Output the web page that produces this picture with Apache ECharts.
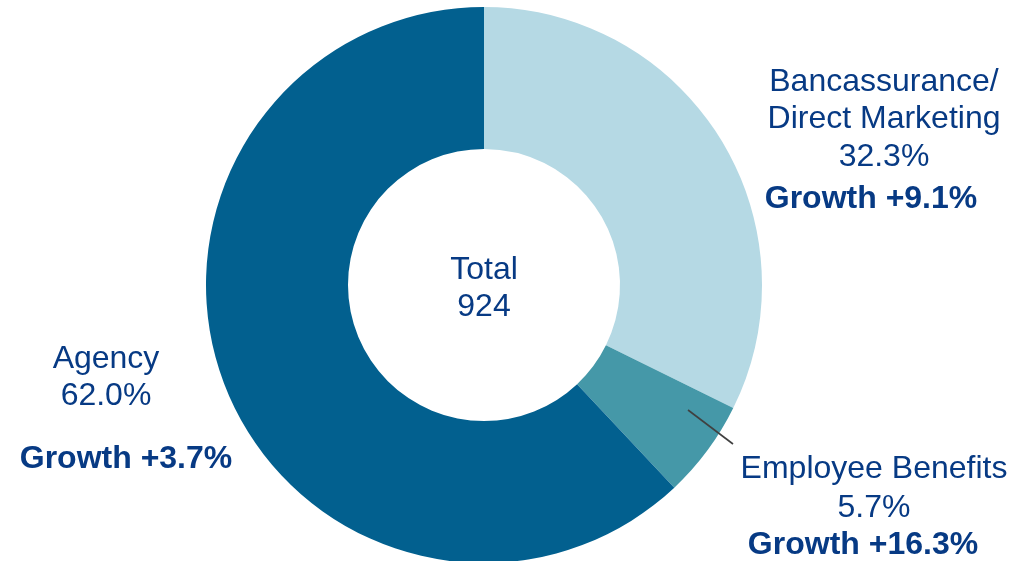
<!DOCTYPE html>
<html>
<head>
<meta charset="utf-8">
<title>Premium mix by channel</title>
<script src="https://cdn.jsdelivr.net/npm/echarts@6/dist/echarts.min.js"></script>
<style>
  html, body { margin: 0; padding: 0; background: #ffffff; }
  #chart { width: 1035px; height: 561px; }
</style>
</head>
<body>
<div id="chart"></div>
<script>
// Channel mix, share of total (%) and year-on-year growth (%)
const channels = ['Bancassurance/\nDirect Marketing', 'Employee Benefits', 'Agency'];
const shares = [32.3, 5.7, 62.0];
const growth = [9.1, 16.3, 3.7];
const total = 924;
const colors = ['#b5d9e4', '#4598a8', '#02608f'];

const textColor = '#073a84';
const fontFamily = '"Liberation Sans", Arial, sans-serif';

// Where each channel's text block sits: centre x, first line y, line step, growth line position
const labelSpots = [
  { x: 884, y: 82, step: 37.5, gy: 199, gx: 871 },
  { x: 874, y: 469, step: 39, gy: 545, gx: 863 },
  { x: 106, y: 359, step: 37, gy: 459, gx: 126 }
];

function textEl(text, x, y, bold) {
  return {
    type: 'text',
    x: x, y: y,
    z: 100,
    silent: true,
    style: {
      text: text,
      align: 'center',
      verticalAlign: 'middle',
      fill: textColor,
      font: (bold ? 'bold ' : '') + '32px ' + fontFamily
    }
  };
}

const graphics = [];
channels.forEach(function (name, i) {
  const s = labelSpots[i];
  const lines = name.split('\n');
  lines.forEach(function (ln, k) {
    graphics.push(textEl(ln, s.x, s.y + k * s.step, false));
  });
  graphics.push(textEl(shares[i].toFixed(1) + '%', s.x, s.y + lines.length * s.step, false));
  graphics.push(textEl('Growth +' + growth[i].toFixed(1) + '%', s.gx, s.gy, true));
});
graphics.push(textEl('Total', 484, 270, false));
graphics.push(textEl(String(total), 484, 307, false));
// leader from the Employee Benefits slice to its label
graphics.push({
  type: 'line',
  z: 100,
  silent: true,
  shape: { x1: 688, y1: 410, x2: 733, y2: 444 },
  style: { stroke: '#404040', lineWidth: 1.6 }
});

const chart = echarts.init(document.getElementById('chart'), null, { renderer: 'canvas' });
chart.setOption({
  animation: false,
  backgroundColor: '#ffffff',
  series: [{
    type: 'pie',
    center: [484, 285],
    radius: [136, 278],
    startAngle: 90,
    clockwise: true,
    avoidLabelOverlap: false,
    label: { show: false },
    labelLine: { show: false },
    itemStyle: { borderWidth: 0 },
    emphasis: { disabled: true },
    data: channels.map(function (name, i) {
      return { name: name, value: shares[i], itemStyle: { color: colors[i] } };
    })
  }],
  graphic: graphics
});
</script>
</body>
</html>
